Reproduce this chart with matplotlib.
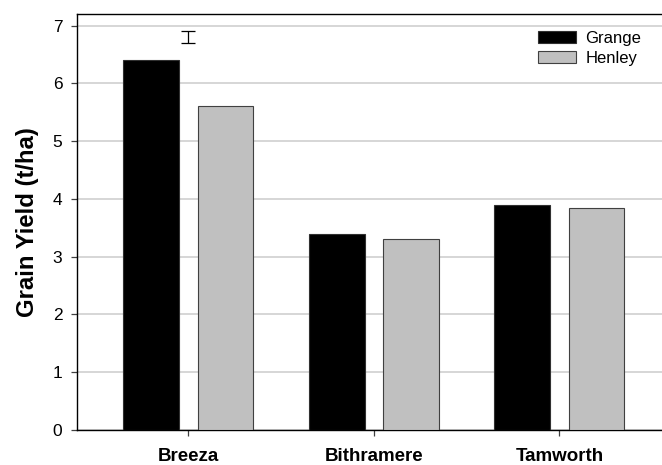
import numpy as np
import matplotlib
matplotlib.use('Agg')
import matplotlib.pyplot as plt

plt.rcParams['font.family'] = ['Liberation Sans', 'DejaVu Sans']

sites = ['Breeza', 'Bithramere', 'Tamworth']
grange = [6.4, 3.4, 3.9]
henley = [5.6, 3.3, 3.85]
lsd_x = 0.0
lsd_y = 6.8
lsd_half = 0.11

fig = plt.figure(figsize=(6.62, 4.65), dpi=100)
ax = fig.add_axes([76.7 / 662, 35 / 465, 1 - 76.7 / 662, 416 / 465])

x = np.arange(len(sites))
w = 0.3
ax.bar(x - 0.2, grange, w, color='black', edgecolor='#303030', linewidth=0.8,
       label='Grange', zorder=3)
ax.bar(x + 0.2, henley, w, color='#c0c0c0', edgecolor='#404040', linewidth=0.8,
       label='Henley', zorder=3)

# LSD bar
ax.errorbar([lsd_x], [lsd_y], yerr=[lsd_half], fmt='none', ecolor='black',
            elinewidth=0.9, capsize=4.7, capthick=0.9, zorder=4)

ax.set_xlim(-0.602, 2.553)
ax.set_ylim(0, 7.2)
ax.set_yticks(range(0, 8))
ax.set_xticks(x)
ax.set_xticklabels(sites, fontsize=13.5, fontweight='bold')
ax.tick_params(axis='y', labelsize=12.5, length=4.3, width=0.9, direction='out',
               pad=6, color='#404040')
ax.tick_params(axis='x', length=4.3, width=0.9, direction='out', pad=9,
               color='#404040')
ax.yaxis.grid(True, color='#d0d0d0', linewidth=1.2, zorder=0)
ax.set_axisbelow(True)
ax.spines['right'].set_visible(False)
for s in ['left', 'top', 'bottom']:
    ax.spines[s].set_linewidth(1.0)

ax.set_ylabel('Grain Yield (t/ha)', fontsize=17.2, fontweight='bold', labelpad=10)

fig.legend(loc='upper left', bbox_to_anchor=(538 / 662, 1 - 31 / 465),
           frameon=False, fontsize=12, handlelength=2.3, handleheight=0.72,
           handletextpad=0.55, labelspacing=0.3, borderpad=0, borderaxespad=0)

fig.savefig('out.png', dpi=100)
